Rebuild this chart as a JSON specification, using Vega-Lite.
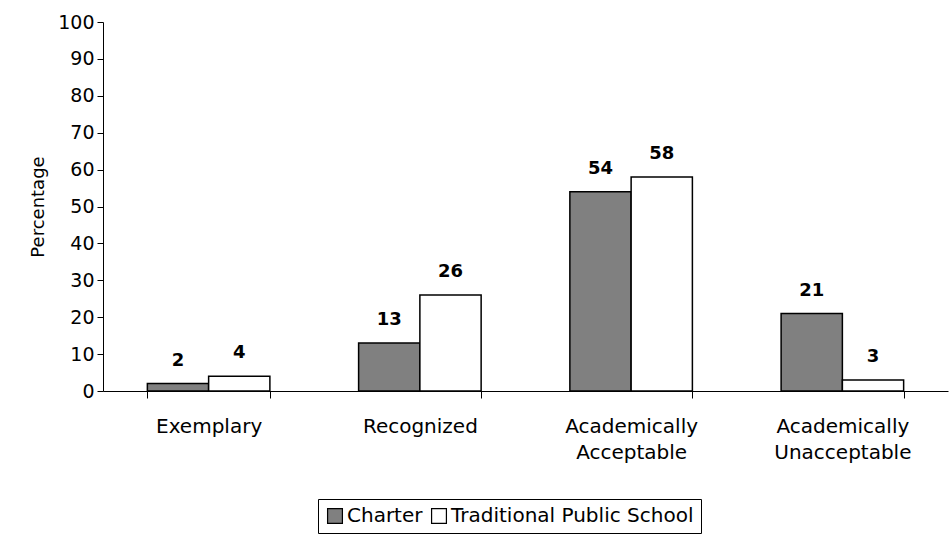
{
  "$schema": "https://vega.github.io/schema/vega-lite/v6.json",
  "width": 845,
  "height": 369,
  "autosize": "none",
  "padding": {"left": 103, "top": 22, "right": 4, "bottom": 144},
  "background": "white",
  "config": {
    "view": {"stroke": null},
    "font": "DejaVu Sans",
    "axis": {"labelFont": "DejaVu Sans", "titleFont": "DejaVu Sans", "labelColor": "black", "titleColor": "black", "domainColor": "black", "tickColor": "black", "grid": false},
    "legend": {"labelFont": "DejaVu Sans"}
  },
  "data": {
    "values": [
      {"rating": "Exemplary", "type": "Charter", "pct": 2},
      {"rating": "Exemplary", "type": "Traditional Public School", "pct": 4},
      {"rating": "Recognized", "type": "Charter", "pct": 13},
      {"rating": "Recognized", "type": "Traditional Public School", "pct": 26},
      {"rating": "Academically Acceptable", "type": "Charter", "pct": 54},
      {"rating": "Academically Acceptable", "type": "Traditional Public School", "pct": 58},
      {"rating": "Academically Unacceptable", "type": "Charter", "pct": 21},
      {"rating": "Academically Unacceptable", "type": "Traditional Public School", "pct": 3}
    ]
  },
  "encoding": {
    "x": {
      "field": "rating", "type": "nominal", "sort": null,
      "scale": {"paddingInner": 0.42, "paddingOuter": 0.21},
      "axis": {
        "title": null, "labelAngle": 0, "labelFontSize": 20, "labelPadding": 18,
        "tickBand": "extent", "tickSize": 7,
        "labelExpr": "datum.value == 'Academically Acceptable' ? ['Academically','Acceptable'] : datum.value == 'Academically Unacceptable' ? ['Academically','Unacceptable'] : datum.value",
        "labelLineHeight": 26
      }
    },
    "xOffset": {"field": "type", "type": "nominal", "sort": ["Charter", "Traditional Public School"]},
    "y": {
      "field": "pct", "type": "quantitative",
      "scale": {"domain": [0, 100]},
      "axis": {"title": "Percentage", "titleFontSize": 18, "titleFontWeight": "normal", "labelFontSize": 19, "tickCount": 10, "titlePadding": 10, "tickSize": 6, "labelPadding": 3}
    }
  },
  "layer": [
    {
      "mark": {"type": "bar", "stroke": "black", "strokeWidth": 1.5},
      "encoding": {
        "fill": {
          "field": "type", "type": "nominal",
          "scale": {"domain": ["Charter", "Traditional Public School"], "range": ["#808080", "#ffffff"]},
          "legend": {
            "title": null, "orient": "none", "direction": "horizontal",
            "legendX": 215, "legendY": 477,
            "labelFontSize": 20, "labelColor": "black", "labelLimit": 0, "symbolType": "square", "symbolSize": 220,
            "symbolStrokeColor": "black", "symbolStrokeWidth": 1.2,
            "strokeColor": "black", "padding": 7, "columnPadding": 6, "labelOffset": 2
          }
        }
      }
    },
    {
      "mark": {"type": "text", "dy": -23, "fontSize": 18, "fontWeight": "bold", "color": "black"},
      "encoding": {"text": {"field": "pct", "type": "quantitative"}}
    }
  ]
}
